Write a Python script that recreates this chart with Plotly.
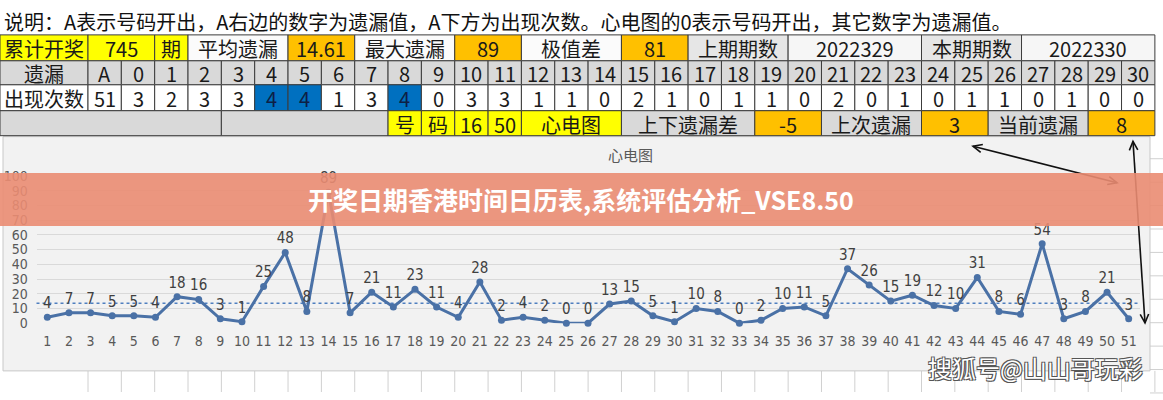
import numpy as np
import plotly.graph_objects as go

W, H = 1163, 400

# ---------------- data ----------------
periods = list(range(1, 52))
omission = [4, 7, 7, 5, 5, 4, 18, 16, 3, 1, 25, 48, 8, 89, 7, 21, 11, 23, 11, 4,
            28, 2, 4, 2, 0, 0, 13, 15, 5, 1, 10, 8, 0, 2, 10, 11, 5, 37, 26, 15,
            19, 12, 10, 31, 8, 6, 54, 3, 8, 21, 3]
y_tick_vals = [0, 10, 20, 30, 40, 50, 60, 70, 80, 90, 100]

note_text = "说明：A表示号码开出，A右边的数字为遗漏值，A下方为出现次数。心电图的0表示号码开出，其它数字为遗漏值。"
header_label = "遗漏"
count_label = "出现次数"
col_headers = ["A"] + [str(i) for i in range(31)]
appear_counts = [51, 3, 2, 3, 3, 4, 4, 1, 3, 4, 0, 3, 3, 1, 1, 0,
                 2, 1, 0, 1, 1, 0, 2, 0, 1, 0, 1, 1, 0, 1, 0, 0]

summary_texts = ["累计开奖", "745", "期", "平均遗漏", "14.61", "最大遗漏", "89", "极值差",
                 "81", "上期期数", "2022329", "本期期数", "2022330"]
summary_spans = [(-1, 0), (0, 2), (2, 3), (3, 6), (6, 8), (8, 11), (11, 13), (13, 16),
                 (16, 18), (18, 21), (21, 25), (25, 28), (28, 32)]
summary_styles = ["Y", "Y", "Y", "W", "O", "W", "O", "W", "O", "L", "P", "L", "P"]

footer_texts = ["", "", "号", "码", "16", "50", "心电图", "上下遗漏差", "-5", "上次遗漏",
                "3", "当前遗漏", "8"]
footer_spans = [(-1, 4), (4, 9), (9, 10), (10, 11), (11, 12), (12, 13), (13, 16), (16, 20),
                (20, 22), (22, 25), (25, 27), (27, 30), (30, 32)]
footer_styles = ["G", "G", "Y", "Y", "Y", "Y", "Y", "G", "O", "G", "O", "G", "O"]

chart_title = "心电图"
banner_text = "开奖日期香港时间日历表,系统评估分析_VSE8.50"
watermark = "搜狐号@山山哥玩彩"

# ---------------- layout constants ----------------
FILL = {"Y": "#ffff00", "O": "#ffc000", "W": "#fbfbfb", "G": "#d9d9d9",
        "L": "#e6e6e6", "P": "#f6f6f6", "B": "#0070c0"}
LABEL_W = 88.0
CW = 33.34
ROW_EDGES = [28, 55, 80, 107, 133]
CJK = "Noto Sans CJK SC"
NUMF = "Liberation Sans Narrow, DejaVu Sans Condensed, Liberation Sans"


def px(x):
    return x / W


def py(y):
    return 1 - y / H


def cx(i):
    return 0.0 if i < 0 else LABEL_W + CW * i


shapes = []
annos = []


def cell(x0, x1, y0, y1, fill, text, tcolor="#1a1a1a"):
    shapes.append(dict(type="rect", xref="paper", yref="paper",
                       x0=px(x0), x1=px(x1), y0=py(y1), y1=py(y0),
                       fillcolor=fill, line=dict(color="#3c3c3c", width=1),
                       layer="below"))
    if text != "":
        annos.append(dict(xref="paper", yref="paper", x=px((x0 + x1) / 2),
                          y=py((y0 + y1) / 2 + 1), text=text, showarrow=False,
                          xanchor="center", yanchor="middle",
                          font=dict(family=CJK, size=20, color=tcolor)))


# spreadsheet grid outside chart
for i in range(0, 33):
    shapes.append(dict(type="line", xref="paper", yref="paper", x0=px(cx(i)), x1=px(cx(i)),
                       y0=py(400), y1=py(378), line=dict(color="#d0d0d0", width=1), layer="below"))
for k in range(11):
    yy = 157 + 24.4 * k
    shapes.append(dict(type="line", xref="paper", yref="paper", x0=px(1150), x1=px(1163),
                       y0=py(yy), y1=py(yy), line=dict(color="#d0d0d0", width=1), layer="below"))

# chart area background
shapes.append(dict(type="rect", xref="paper", yref="paper", x0=px(3), x1=px(1150),
                   y0=py(378), y1=py(134), fillcolor="#f2f2f2",
                   line=dict(color="#c8c8c8", width=1), layer="below"))

# note row
annos.append(dict(xref="paper", yref="paper", x=px(2), y=py(14), text=note_text,
                  showarrow=False, xanchor="left", yanchor="middle",
                  font=dict(family=CJK, size=20, color="#111111")))

# summary row
for t, (a, b), s in zip(summary_texts, summary_spans, summary_styles):
    cell(cx(a), cx(b), ROW_EDGES[0], ROW_EDGES[1], FILL[s], t)

# header row
cell(0, LABEL_W, ROW_EDGES[1], ROW_EDGES[2], FILL["G"], header_label)
for i, h in enumerate(col_headers):
    cell(cx(i), cx(i + 1), ROW_EDGES[1], ROW_EDGES[2], FILL["G"], h)

# counts row
cell(0, LABEL_W, ROW_EDGES[2], ROW_EDGES[3], "#ffffff", count_label)
max_cnt = max(appear_counts[1:])
for i, c in enumerate(appear_counts):
    hi = i > 0 and c == max_cnt
    cell(cx(i), cx(i + 1), ROW_EDGES[2], ROW_EDGES[3],
         FILL["B"] if hi else "#ffffff", str(c), "#0d1f45" if hi else "#1a1a1a")

# footer row
for t, (a, b), s in zip(footer_texts, footer_spans, footer_styles):
    cell(cx(a), cx(b), ROW_EDGES[3], ROW_EDGES[4], FILL[s], t)

# average dotted line
avg = float(np.mean(omission))
shapes.append(dict(type="line", xref="x domain", yref="y", x0=0, x1=1, y0=avg, y1=avg,
                   line=dict(color="#4f7fbf", width=1.5, dash="dot"), layer="below"))


# arrows
def arrow(x0, y0, x1, y1, size=10, ang=25):
    out = [dict(type="line", xref="paper", yref="paper", x0=px(x0), y0=py(y0),
                x1=px(x1), y1=py(y1), line=dict(color="#111111", width=1.6), layer="above")]
    for (ax, ay, bx, by) in [(x0, y0, x1, y1), (x1, y1, x0, y0)]:
        d = np.array([bx - ax, by - ay], dtype=float)
        d /= np.linalg.norm(d)
        pts = []
        for sgn in (1, -1):
            t = np.radians(ang * sgn)
            r = np.array([d[0] * np.cos(t) - d[1] * np.sin(t), d[0] * np.sin(t) + d[1] * np.cos(t)])
            pts.append((ax + r[0] * size, ay + r[1] * size))
        path = "M{},{} L{},{} L{},{}".format(px(pts[0][0]), py(pts[0][1]), px(ax), py(ay),
                                            px(pts[1][0]), py(pts[1][1]))
        out.append(dict(type="path", xref="paper", yref="paper", path=path,
                        line=dict(color="#111111", width=1.6), layer="above"))
    return out


shapes += arrow(973, 144, 1117, 182)
shapes += arrow(1133, 139, 1145, 328)

# banner overlay
shapes.append(dict(type="rect", xref="paper", yref="paper", x0=0, x1=1, y0=py(227), y1=py(172),
                   fillcolor="rgba(234,140,114,0.9)", line=dict(width=0), layer="above"))
annos.append(dict(xref="paper", yref="paper", x=px(581), y=py(199), text="<b>" + banner_text + "</b>",
                  showarrow=False, xanchor="center", yanchor="middle",
                  font=dict(family=CJK, size=25, color="#ffffff")))

# chart title
annos.append(dict(xref="paper", yref="paper", x=px(630), y=py(153), text=chart_title,
                  showarrow=False, xanchor="center", yanchor="middle",
                  font=dict(family=CJK, size=15, color="#595959")))

# watermark
annos.append(dict(xref="paper", yref="paper", x=px(1035), y=py(374), text=watermark,
                  showarrow=False, xanchor="center", yanchor="middle",
                  font=dict(family=CJK, size=24, color="#ffffff",
                            shadow="-1px -1px 0 #555, 1px -1px 0 #555, -1px 1px 0 #555, 1px 1px 0 #555")))

fig = go.Figure()
fig.add_trace(go.Scatter(
    x=periods, y=omission, mode="lines+markers+text",
    text=[str(v) for v in omission], textposition="top center",
    textfont=dict(family=NUMF, size=15, color="#404040"),
    line=dict(color="#4a71a6", width=3), marker=dict(size=7, color="#4a71a6"),
    cliponaxis=False, hoverinfo="skip", showlegend=False))

fig.update_layout(
    width=W, height=H, margin=dict(l=0, r=0, t=0, b=0),
    paper_bgcolor="#ffffff", plot_bgcolor="#f2f2f2",
    showlegend=False, shapes=shapes, annotations=annos,
    xaxis=dict(domain=[px(36.5), px(1139.5)], range=[0.5, 51.5], tickvals=periods,
               showgrid=False, zeroline=False, showline=False, ticks="outside",
               ticklen=5, tickcolor="rgba(0,0,0,0)",
               tickfont=dict(family=NUMF, size=14, color="#595959")),
    yaxis=dict(domain=[1 - 328.3 / H, 1 - 175 / H], range=[0, 100], tickvals=y_tick_vals,
               showgrid=True, gridcolor="#d9d9d9", gridwidth=1, zeroline=False,
               showline=False, ticks="outside", ticklen=5, tickcolor="rgba(0,0,0,0)",
               tickfont=dict(family=NUMF, size=14, color="#595959")),
)

fig.write_html("out.html")
